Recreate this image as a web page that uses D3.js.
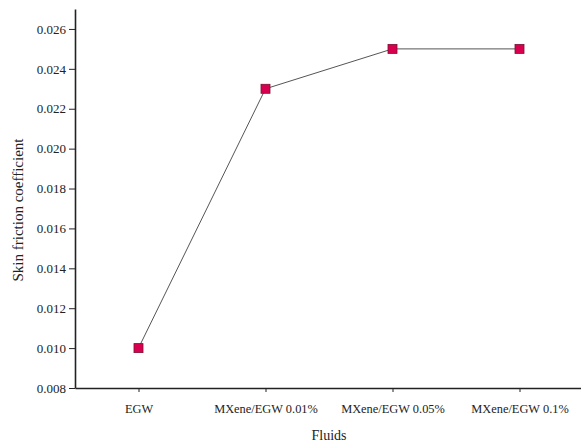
<!DOCTYPE html>
<html>
<head>
<meta charset="utf-8">
<script src="https://cdn.jsdelivr.net/npm/d3@7"></script>
<style>
  body { margin: 0; background: #fff; }
  svg text { font-family: "Liberation Serif", "Times New Roman", serif; fill: #222; }
  .axis path, .axis line { stroke: #222; }
</style>
</head>
<body>
<svg id="chart" width="581" height="444"></svg>
<script>
// fluids and friction coefficient
var fluids = ["EGW", "MXene/EGW 0.01%", "MXene/EGW 0.05%", "MXene/EGW 0.1%"];
var friction = [0.010, 0.023, 0.025, 0.025];
var yTicks = [0.008, 0.010, 0.012, 0.014, 0.016, 0.018, 0.020, 0.022, 0.024, 0.026];

var svg = d3.select("#chart");
var plotLeft = 75, plotRight = 583, plotTop = 9, plotBottom = 388;

var records = fluids.map(function(f, i) { return {fluid: f, value: friction[i]}; });

var xScale = d3.scalePoint()
    .domain(fluids)
    .range([plotLeft, plotRight])
    .padding(0.5);

var yScale = d3.scaleLinear()
    .domain([0.008, 0.027])
    .range([plotBottom, plotTop]);

var xAxis = d3.axisBottom(xScale).tickSize(4).tickSizeOuter(0);
var yAxis = d3.axisLeft(yScale)
    .tickValues(yTicks)
    .tickFormat(d3.format(".3f"))
    .tickSize(6)
    .tickSizeOuter(0);

var gx = svg.append("g")
    .attr("class", "axis")
    .attr("transform", "translate(0," + plotBottom + ")")
    .call(xAxis);
gx.select(".domain").attr("stroke-width", 1.6);
gx.selectAll("text").style("font-size", "12.4px").attr("dy", "1.45em");

var gy = svg.append("g")
    .attr("class", "axis")
    .attr("transform", "translate(" + plotLeft + ",0)")
    .call(yAxis);
gy.select(".domain").attr("stroke-width", 1.6);
gy.selectAll("text").style("font-size", "13px").attr("x", -9);

// axis titles
svg.append("text")
    .attr("x", xScale(fluids[1]) + xScale.step() / 2)
    .attr("y", 440)
    .style("text-anchor", "middle")
    .style("font-size", "14px")
    .text("Fluids");

svg.append("text")
    .attr("transform", "translate(23,210) rotate(-90)")
    .style("text-anchor", "middle")
    .style("font-size", "15px")
    .text("Skin friction coefficient");

var line = d3.line()
    .x(function(d) { return xScale(d.fluid); })
    .y(function(d) { return yScale(d.value); });

svg.append("path")
    .datum(records)
    .attr("d", line)
    .attr("fill", "none")
    .attr("stroke", "#555")
    .attr("stroke-width", 1);

svg.selectAll("rect.marker")
    .data(records)
    .enter()
    .append("rect")
    .attr("class", "marker")
    .attr("x", function(d) { return xScale(d.fluid) - 4.5; })
    .attr("y", function(d) { return yScale(d.value) - 4.5; })
    .attr("width", 9)
    .attr("height", 9)
    .style("fill", "#d9004f")
    .style("stroke", "#7a1030")
    .style("stroke-width", 0.8);
</script>
</body>
</html>
